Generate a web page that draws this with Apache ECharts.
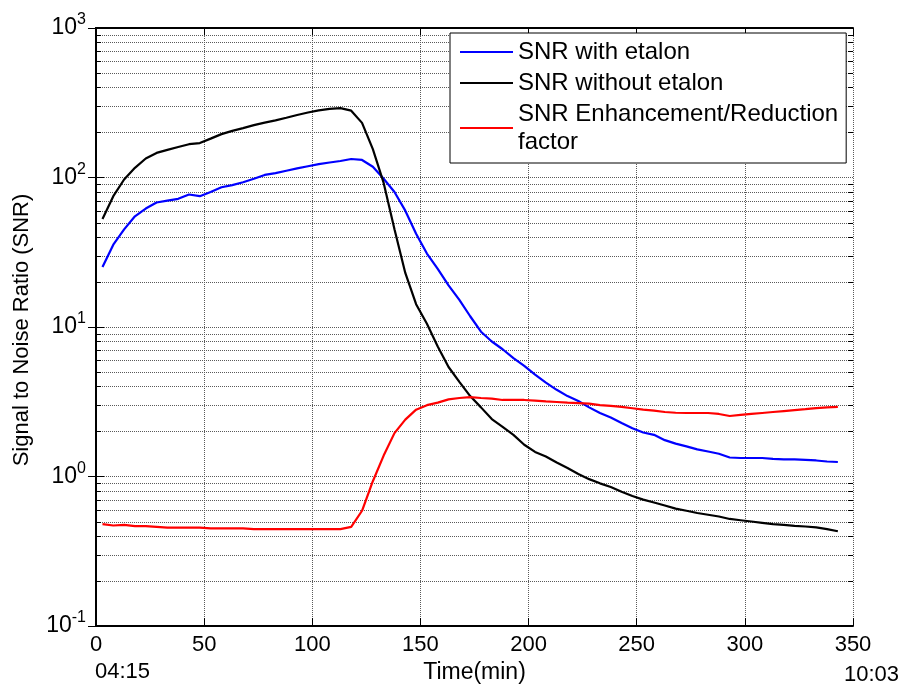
<!DOCTYPE html>
<html>
<head>
<meta charset="utf-8">
<script src="https://cdn.jsdelivr.net/npm/echarts@6/dist/echarts.min.js"></script>
<style>
  html, body { margin: 0; padding: 0; background: #fff; }
  #snrChart { width: 901px; height: 696px; }
</style>
</head>
<body>
<div id="snrChart"></div>
<script>
// sample times (min)
const timeMin = [3, 8, 13, 18, 23, 28, 33, 38, 43, 48, 53, 58, 63, 68, 73, 78, 83, 88, 93, 98,
  103, 108, 113, 118, 123, 128, 133, 138, 143, 148, 153, 158, 163, 168, 173, 178, 183, 188, 193, 198,
  203, 208, 213, 218, 223, 228, 233, 238, 243, 248, 253, 258, 263, 268, 273, 278, 283, 288, 293, 298,
  303, 308, 313, 318, 323, 328, 333, 338, 343];

const snrWithEtalon = [25.2, 35.5, 45, 55, 62, 68, 70, 72, 77, 75, 80, 86, 89, 93, 98, 104, 107, 111, 115, 119,
  123, 126, 129, 133, 131, 118, 98, 80, 60, 42, 31, 24.5, 19, 15.2, 11.8, 9.3, 8.0, 7.1, 6.2, 5.5,
  4.8, 4.25, 3.8, 3.45, 3.2, 2.9, 2.66, 2.48, 2.28, 2.1, 1.97, 1.9, 1.75, 1.66, 1.59, 1.52, 1.47, 1.42, 1.34, 1.33,
  1.33, 1.33, 1.31, 1.3, 1.3, 1.29, 1.28, 1.26, 1.25];

const snrWithoutEtalon = [52.7, 75, 97, 116, 134, 146, 153, 160, 167, 170, 182, 195, 205, 214, 224, 233, 241, 251, 262, 272,
  281, 288, 291, 280, 232, 155, 92, 45, 23, 14.2, 10.5, 7.4, 5.4, 4.3, 3.45, 2.9, 2.42, 2.15, 1.9, 1.63,
  1.46, 1.36, 1.24, 1.14, 1.04, 0.96, 0.9, 0.85, 0.79, 0.74, 0.7, 0.67, 0.64, 0.61, 0.59, 0.57, 0.555, 0.54, 0.52, 0.51,
  0.5, 0.49, 0.48, 0.474, 0.468, 0.463, 0.457, 0.445, 0.43];

const snrFactor = [0.48, 0.47, 0.475, 0.465, 0.465, 0.46, 0.455, 0.455, 0.455, 0.455, 0.45, 0.45, 0.45, 0.45, 0.445, 0.445, 0.445, 0.445, 0.445, 0.445,
  0.445, 0.445, 0.445, 0.46, 0.59, 0.93, 1.38, 1.95, 2.4, 2.8, 3.0, 3.12, 3.28, 3.35, 3.4, 3.35, 3.32, 3.25, 3.25, 3.25,
  3.22, 3.18, 3.15, 3.12, 3.1, 3.07, 3.0, 2.97, 2.92, 2.86, 2.8, 2.76, 2.7, 2.67, 2.66, 2.66, 2.66, 2.62, 2.54, 2.58,
  2.62, 2.66, 2.7, 2.74, 2.78, 2.82, 2.87, 2.9, 2.92];

// minor log grid values (2..9 x 10^k)
const minorTicks = [0.2, 0.3, 0.4, 0.5, 0.6, 0.7, 0.8, 0.9,
  2, 3, 4, 5, 6, 7, 8, 9,
  20, 30, 40, 50, 60, 70, 80, 90,
  200, 300, 400, 500, 600, 700, 800, 900];

const seriesNames = ['SNR with etalon', 'SNR without etalon', 'SNR Enhancement/Reduction\nfactor'];

const font = '"Liberation Sans", Arial, Helvetica, sans-serif';
const dotColor = '#5a5a5a';
const gridDots = { color: dotColor, width: 1, type: [1, 1] };

const pairs = (ys) => timeMin.map((t, i) => [t, ys[i]]);

const chart = echarts.init(document.getElementById('snrChart'));

chart.setOption({
  animation: false,
  backgroundColor: '#fff',
  grid: { left: 96, right: 48, top: 28, bottom: 70, containLabel: false },
  legend: {
    data: seriesNames,
    orient: 'vertical',
    left: 450,
    top: 33,
    padding: [5, 8, 7, 10],
    itemGap: 3,
    icon: 'rect',
    itemWidth: 53,
    itemHeight: 2,
    backgroundColor: '#fff',
    borderColor: '#000',
    borderWidth: 1,
    borderRadius: 0,
    textStyle: { fontFamily: font, fontSize: 24, color: '#000', lineHeight: 28 }
  },
  xAxis: [{
    type: 'value',
    min: 0, max: 350, interval: 50,
    name: 'Time(min)',
    nameLocation: 'middle',
    nameGap: 31,
    nameTextStyle: { fontFamily: font, fontSize: 23, color: '#000' },
    axisLine: { lineStyle: { color: '#000', width: 2 } },
    axisTick: { inside: true, length: 8, lineStyle: { color: '#000', width: 1 } },
    axisLabel: { fontFamily: font, fontSize: 22, color: '#000', margin: 8 },
    splitLine: { show: true, lineStyle: gridDots }
  }, {
    type: 'value',
    position: 'top',
    min: 0, max: 350, interval: 50,
    axisLine: { lineStyle: { color: '#000', width: 2 } },
    axisTick: { inside: true, length: 8, lineStyle: { color: '#000', width: 1 } },
    axisLabel: { show: false },
    splitLine: { show: false }
  }],
  yAxis: [{
    type: 'log',
    logBase: 10,
    min: 0.1, max: 1000,
    splitNumber: 4,
    axisLine: { show: true, lineStyle: { color: '#000', width: 2 } },
    axisTick: { show: true, inside: true, length: 8, lineStyle: { color: '#000', width: 1 } },
    axisLabel: {
      margin: 10,
      formatter: function (v) {
        const e = Math.round(Math.log10(v));
        return '{b|10}{s|' + e + '}';
      },
      rich: {
        b: { fontFamily: font, fontSize: 23, color: '#000', lineHeight: 32 },
        s: { fontFamily: font, fontSize: 16, color: '#000', lineHeight: 16, verticalAlign: 'top' }
      }
    },
    splitLine: { show: true, lineStyle: gridDots }
  }, {
    type: 'log',
    logBase: 10,
    position: 'right',
    min: 0.1, max: 1000,
    splitNumber: 4,
    axisLine: { show: true, lineStyle: { color: '#000', width: 2 } },
    axisTick: { show: true, inside: true, length: 8, lineStyle: { color: '#000', width: 1 } },
    axisLabel: { show: false },
    splitLine: { show: false }
  }],
  graphic: [
    { type: 'text', left: 95, top: 661, style: { text: '04:15', font: '22px ' + font, fill: '#000' } },
    { type: 'text', right: 2, top: 664, style: { text: '10:03', font: '22px ' + font, fill: '#000' } },
    {
      type: 'text', x: 22, y: 330, rotation: Math.PI / 2,
      style: { text: 'Signal to Noise Ratio (SNR)', font: '22px ' + font, fill: '#000', align: 'center', verticalAlign: 'middle' }
    }
  ],
  series: [
    {
      // minor grid lines + minor ticks of the log axis
      type: 'custom',
      silent: true,
      z: 1,
      data: minorTicks.map((v) => [0, v]),
      renderItem: function (params, api) {
        const v = api.value(1);
        const p0 = api.coord([0, v]);
        const p1 = api.coord([350, v]);
        const y = Math.round(p0[1]) + 0.5;
        return {
          type: 'group',
          children: [
            { type: 'line', shape: { x1: p0[0], y1: y, x2: p1[0], y2: y }, style: { stroke: dotColor, lineWidth: 1, lineDash: [1, 1] } },
            { type: 'line', shape: { x1: p0[0], y1: y, x2: p0[0] + 5, y2: y }, style: { stroke: '#000', lineWidth: 1 } },
            { type: 'line', shape: { x1: p1[0] - 5, y1: y, x2: p1[0], y2: y }, style: { stroke: '#000', lineWidth: 1 } }
          ]
        };
      }
    },
    {
      name: seriesNames[0], type: 'line', symbol: 'none', z: 3,
      lineStyle: { color: '#0000ff', width: 2.2 }, itemStyle: { color: '#0000ff' },
      data: pairs(snrWithEtalon)
    },
    {
      name: seriesNames[1], type: 'line', symbol: 'none', z: 3,
      lineStyle: { color: '#000', width: 2.2 }, itemStyle: { color: '#000' },
      data: pairs(snrWithoutEtalon)
    },
    {
      name: seriesNames[2], type: 'line', symbol: 'none', z: 3,
      lineStyle: { color: '#ff0000', width: 2.2 }, itemStyle: { color: '#ff0000' },
      data: pairs(snrFactor)
    }
  ]
});

window.addEventListener('resize', () => chart.resize());
</script>
</body>
</html>
